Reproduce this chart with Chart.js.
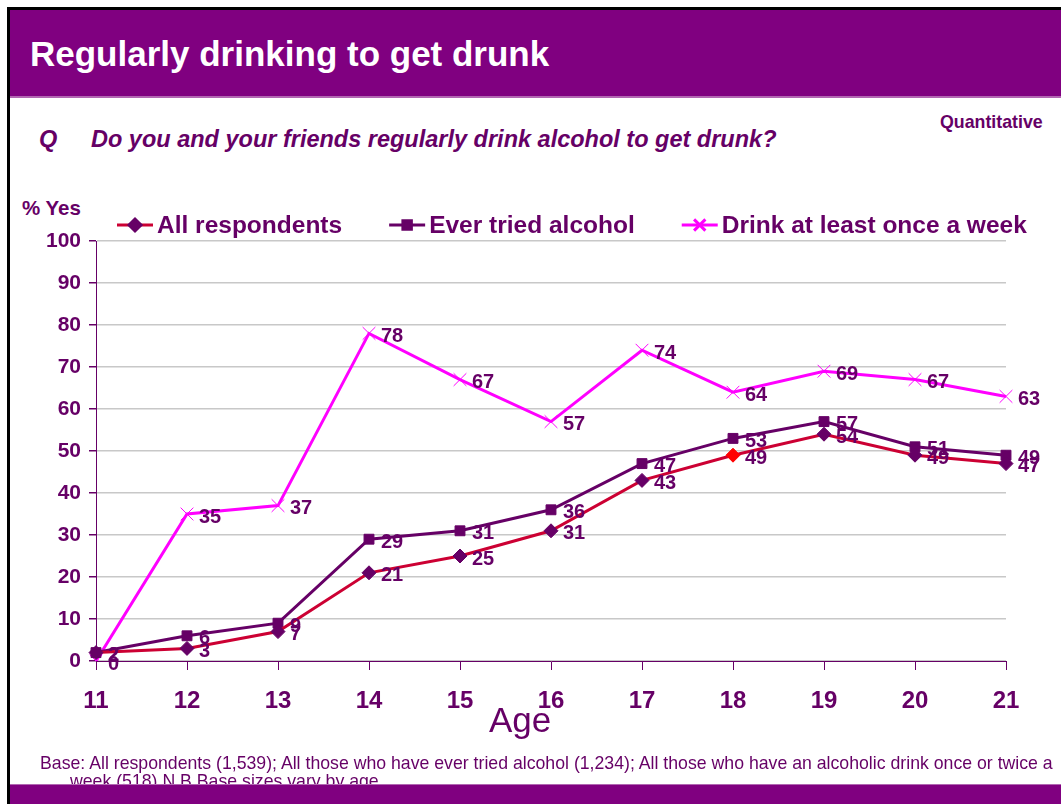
<!DOCTYPE html>
<html>
<head>
<meta charset="utf-8">
<script src="https://cdn.jsdelivr.net/npm/chart.js@4"></script>
<style>
  html, body { margin: 0; padding: 0; background: #fff; }
  body { width: 1061px; height: 804px; position: relative; overflow: hidden; font-family: "Liberation Sans", Arial, sans-serif; color: #660066; }
  #frame { position: absolute; left: 7px; top: 7px; right: 0; bottom: 0; border-left: 3px solid #000; border-top: 3px solid #000; }
  #header { position: absolute; left: 10px; top: 10px; right: 0; height: 86px; background: #800080; border-bottom: 2px solid #b266b2; }
  #header h1 { margin: 0; position: absolute; left: 20px; top: 24px; font-size: 35px; font-weight: bold; color: #fff; }
  #quant { position: absolute; left: 940px; top: 112px; font-size: 17.8px; font-weight: bold; }
  #q { position: absolute; left: 39px; top: 126px; font-size: 23.5px; font-weight: bold; font-style: italic; }
  #q span { position: absolute; left: 52px; white-space: nowrap; }
  #yes { position: absolute; left: 22px; top: 196px; font-size: 20.5px; font-weight: bold; }
  #age { position: absolute; left: 489px; top: 700px; font-size: 35px; }
  #base { position: absolute; left: 40px; top: 754px; width: 1021px; font-size: 17.7px; line-height: 18px; white-space: nowrap; }
  #base div + div { padding-left: 30px; }
  #footer { position: absolute; left: 10px; right: 0; top: 784px; height: 20px; background: #800080; border-top: 1px solid #b266b2; z-index: 2; }
  canvas { position: absolute; left: 0; top: 0; }
</style>
</head>
<body>
<div id="frame"></div>
<div id="header"><h1>Regularly drinking to get drunk</h1></div>
<div id="quant">Quantitative</div>
<div id="q">Q<span>Do you and your friends regularly drink alcohol to get drunk?</span></div>
<div id="yes">% Yes</div>
<canvas id="myChart" width="1061" height="804"></canvas>
<div id="age">Age</div>
<div id="base">
  <div>Base: All respondents (1,539); All those who have ever tried alcohol (1,234); All those who have an alcoholic drink once or twice a</div>
  <div>week (518) N.B Base sizes vary by age</div>
</div>
<div id="footer"></div>
<script>
const ages = ["11", "12", "13", "14", "15", "16", "17", "18", "19", "20", "21"];
const allRespondents = [2, 3, 7, 21, 25, 31, 43, 49, 54, 49, 47];
const everTried = [2, 6, 9, 29, 31, 36, 47, 53, 57, 51, 49];
const weekly = [0, 35, 37, 78, 67, 57, 74, 64, 69, 67, 63];
const seriesNames = ["All respondents", "Ever tried alcohol", "Drink at least once a week"];
const yTicks = [0, 10, 20, 30, 40, 50, 60, 70, 80, 90, 100];

const plum = "#660066";
const red = "#cc0033";
const pink = "#ff00ff";
const FONT = "'Liberation Sans', Arial, sans-serif";

// one marker on the red line (age 18) is filled red instead of plum
const diamondFill = allRespondents.map((v, i) => i === 7 ? "#ff0000" : plum);
const legendMarker = [plum, plum, pink];

// value next to each point
const valueLabels = {
  id: "valueLabels",
  afterDatasetsDraw(chart) {
    const ctx = chart.ctx;
    ctx.save();
    ctx.font = "bold 20px " + FONT;
    ctx.fillStyle = plum;
    ctx.textBaseline = "middle";
    ctx.textAlign = "left";
    chart.data.datasets.forEach((ds, di) => {
      chart.getDatasetMeta(di).data.forEach((pt, i) => {
        ctx.fillText(ds.data[i], pt.x + 12, pt.y + 3);
      });
    });
    ctx.restore();
  }
};

// legend row: short line with the marker on it, then the bold name
const lineLegend = {
  id: "lineLegend",
  afterDraw(chart) {
    const ctx = chart.ctx;
    ctx.save();
    ctx.font = "bold 24.5px " + FONT;
    ctx.textBaseline = "middle";
    let x = 117;
    const y = 225;
    chart.data.datasets.forEach((ds, di) => {
      ctx.strokeStyle = ds.borderColor;
      ctx.lineWidth = 3;
      ctx.beginPath();
      ctx.moveTo(x, y);
      ctx.lineTo(x + 36, y);
      ctx.stroke();
      ctx.fillStyle = legendMarker[di];
      ctx.strokeStyle = legendMarker[di];
      Chart.helpers.drawPoint(ctx, {
        pointStyle: ds.pointStyle,
        radius: ds.pointRadius - 1,
        borderWidth: 1
      }, x + 18, y);
      ctx.fillStyle = plum;
      ctx.fillText(ds.label, x + 40, y + 1);
      x += 40 + ctx.measureText(ds.label).width + 47;
    });
    ctx.restore();
  }
};

new Chart("myChart", {
  type: "line",
  data: {
    labels: ages,
    datasets: [
      {
        label: seriesNames[0],
        data: allRespondents,
        borderColor: red,
        borderWidth: 3,
        pointStyle: "rectRot",
        pointRadius: 7,
        pointBackgroundColor: diamondFill,
        pointBorderColor: diamondFill,
        pointBorderWidth: 1,
        tension: 0
      },
      {
        label: seriesNames[1],
        data: everTried,
        borderColor: plum,
        borderWidth: 3,
        pointStyle: "rect",
        pointRadius: 7,
        pointBackgroundColor: plum,
        pointBorderColor: plum,
        pointBorderWidth: 1,
        tension: 0
      },
      {
        label: seriesNames[2],
        data: weekly,
        borderColor: pink,
        borderWidth: 3,
        pointStyle: "crossRot",
        pointRadius: 9,
        pointBackgroundColor: pink,
        pointBorderColor: pink,
        pointBorderWidth: 1,
        tension: 0
      }
    ]
  },
  options: {
    responsive: false,
    animation: false,
    layout: { padding: { left: 36, right: 55, top: 241, bottom: 63 } },
    plugins: {
      legend: { display: false },
      tooltip: { enabled: false }
    },
    scales: {
      x: {
        afterFit(axis) { axis.height = 80; },
        grid: { drawOnChartArea: false, tickColor: plum, tickLength: 9, lineWidth: 1 },
        border: { color: plum, width: 1 },
        ticks: {
          color: plum,
          padding: 17,
          font: { family: FONT, size: 24, weight: "bold" }
        }
      },
      y: {
        min: 0,
        max: 100,
        afterFit(axis) { axis.width = 60; },
        afterBuildTicks(axis) { axis.ticks = yTicks.map(v => ({ value: v })); },
        grid: { color: "#c8c8c8", lineWidth: 1.5, tickColor: plum, tickLength: 7 },
        border: { color: plum, width: 1 },
        ticks: {
          color: plum,
          padding: 8,
          font: { family: FONT, size: 21, weight: "bold" }
        }
      }
    }
  },
  plugins: [valueLabels, lineLegend]
});
</script>
</body>
</html>
